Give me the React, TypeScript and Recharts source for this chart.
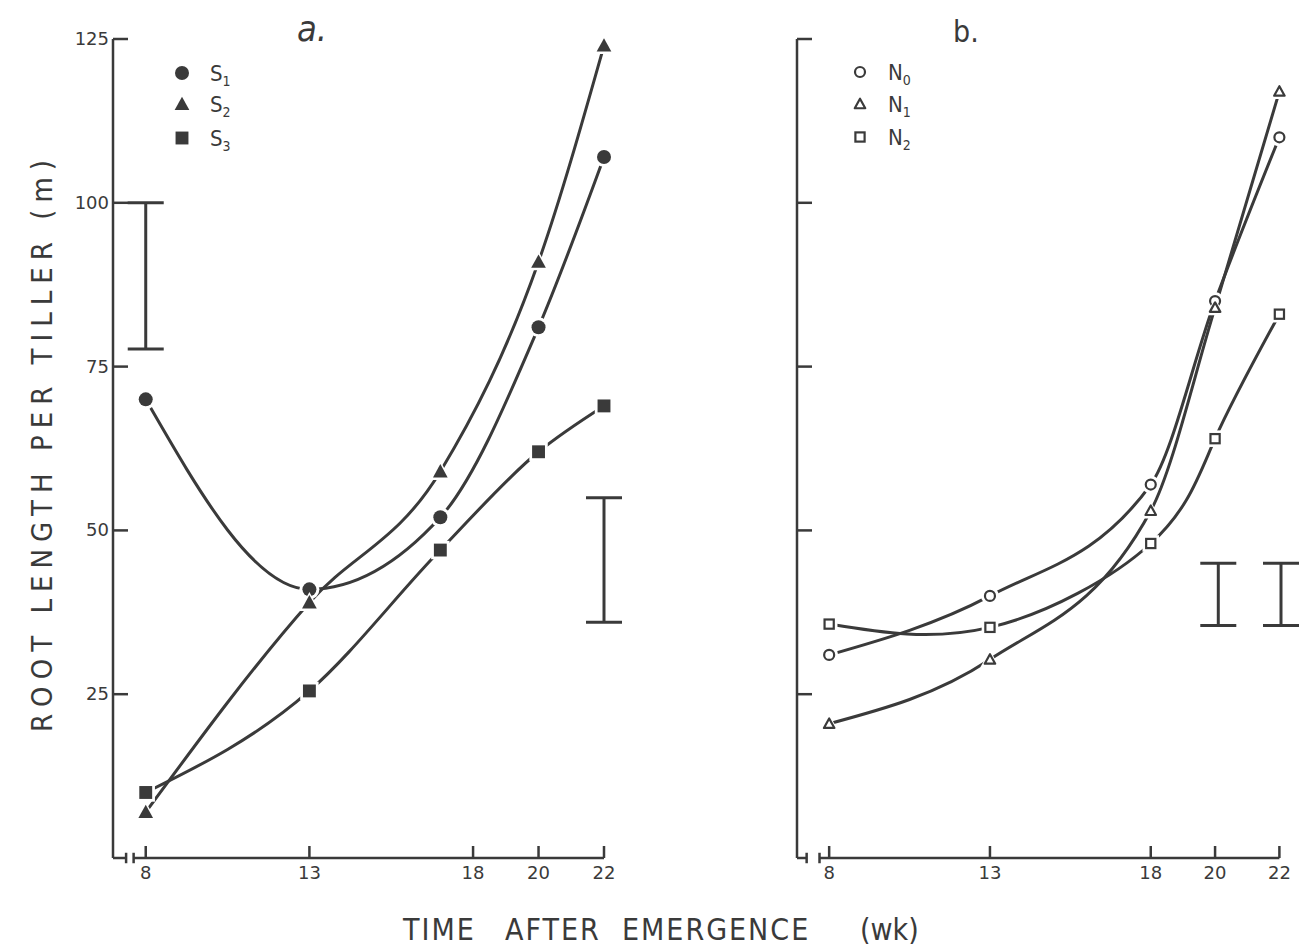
import React from "react";
import { ComposedChart, Line, Scatter, ErrorBar, XAxis, YAxis, ReferenceLine } from "recharts";

// panel a: soil treatments
const weeksA = [8, 13, 17, 20, 22];
const s1 = [70, 41, 52, 81, 107];
const s2 = [7, 39, 59, 91, 124];
const s3 = [10, 25.5, 47, 62, 69];

// panel b: nitrogen treatments
const weeksB = [8, 13, 18, 20, 22];
const n0 = [31, 40, 57, 85, 110];
const n1 = [20.5, 30.3, 53, 84, 117];
const n2 = [35.7, 35.2, 48, 64, 83];

const xTicks = [8, 13, 18, 20, 22];
const yTicks = [25, 50, 75, 100, 125];

// LSD bars: week, low, high
const barsA = [[8, 77.7, 100], [22, 36, 55]];
const barsB = [[20.1, 35.5, 45], [22.05, 35.5, 45]];

const INK = "#3a3a3a";
const FONT = "'DejaVu Sans Condensed', 'DejaVu Sans', sans-serif";
const TICK_FONT = "'DejaVu Sans', sans-serif";
const W = 1300;
const H = 952;
const AXIS_Y = 858;

const tableA = weeksA.map((wk, i) => ({ wk, s1: s1[i], s2: s2[i], s3: s3[i] }));
const tableB = weeksB.map((wk, i) => ({ wk, n0: n0[i], n1: n1[i], n2: n2[i] }));
const toBars = (bars: number[][]) =>
  bars.map(([wk, lo, hi]) => ({ wk, mid: (lo + hi) / 2, err: (hi - lo) / 2 }));

type Kind = "circle" | "triangle" | "square";

function Marker({ kind, cx, cy, filled }: { kind: Kind; cx: number; cy: number; filled: boolean }) {
  const r = filled ? 7 : 6;
  const shape = (s: number, fill: string, stroke: string, sw: number) => {
    if (kind === "circle") return <circle cx={cx} cy={cy} r={s} fill={fill} stroke={stroke} strokeWidth={sw} />;
    if (kind === "square") {
      const q = s * 0.92;
      return <rect x={cx - q} y={cy - q} width={2 * q} height={2 * q} fill={fill} stroke={stroke} strokeWidth={sw} />;
    }
    return (
      <polygon
        points={`${cx},${cy - s * 1.05} ${cx - s * 1.05},${cy + s * 0.85} ${cx + s * 1.05},${cy + s * 0.85}`}
        fill={fill}
        stroke={stroke}
        strokeWidth={sw}
        strokeLinejoin="round"
      />
    );
  };
  return (
    <g>
      {shape(r + 3, "#fff", "none", 0)}
      {filled ? shape(r, INK, "none", 0) : shape(r - 1, "#fff", INK, 2.2)}
    </g>
  );
}

const dotOf = (kind: Kind, filled: boolean) => (props: any) => (
  <Marker key={`${kind}-${props.index}`} kind={kind} cx={props.cx} cy={props.cy} filled={filled} />
);

const XTick = ({ x, y, payload }: any) => (
  <g>
    <line x1={x} x2={x} y1={y} y2={y - 12} stroke={INK} strokeWidth={2.5} />
    <text x={x} y={y + 21} textAnchor="middle" style={{ fontSize: 18 }} fill={INK} fontFamily={TICK_FONT}>
      {payload.value}
    </text>
  </g>
);

const makeYTick = (showLabel: boolean) => ({ x, y, payload }: any) => (
  <g>
    <line x1={x} x2={x + 15} y1={y} y2={y} stroke={INK} strokeWidth={2.5} />
    {showLabel && (
      <text x={x - 4} y={y + 6} textAnchor="end" style={{ fontSize: 18 }} fill={INK} fontFamily={TICK_FONT}>
        {payload.value}
      </text>
    )}
  </g>
);

function Panel({
  left,
  right,
  data,
  series,
  bars,
  showLabels,
  breaks,
}: {
  left: number;
  right: number;
  data: any[];
  series: { key: string; kind: Kind; curve: any }[];
  bars: number[][];
  showLabels: boolean;
  breaks: [number, number];
}) {
  const h = 0.8;
  return (
    <div style={{ position: "absolute", left: 0, top: 0 }}>
      <ComposedChart
        width={W}
        height={H}
        data={data}
        margin={{ top: 39, left: left - 40, right: W - right, bottom: H - AXIS_Y - 30 }}
      >
        <XAxis
          dataKey="wk"
          type="number"
          domain={[7, 22]}
          ticks={xTicks}
          axisLine={false}
          tickLine={false}
          tickSize={0}
          tickMargin={0}
          height={30}
          tick={<XTick />}
        />
        <YAxis
          type="number"
          domain={[0, 125]}
          ticks={yTicks}
          axisLine={{ stroke: INK, strokeWidth: 2.5 }}
          tickLine={false}
          tickSize={0}
          tickMargin={0}
          width={40}
          tick={makeYTick(showLabels)}
        />
        {/* broken x axis line */}
        <ReferenceLine segment={[{ x: 7, y: 0 }, { x: breaks[0], y: 0 }]} stroke={INK} strokeWidth={2.5} ifOverflow="visible" />
        <ReferenceLine segment={[{ x: breaks[0], y: -h }, { x: breaks[0], y: h }]} stroke={INK} strokeWidth={2.5} ifOverflow="visible" />
        <ReferenceLine segment={[{ x: breaks[1], y: -h }, { x: breaks[1], y: h }]} stroke={INK} strokeWidth={2.5} ifOverflow="visible" />
        <ReferenceLine segment={[{ x: breaks[1], y: 0 }, { x: 22, y: 0 }]} stroke={INK} strokeWidth={2.5} ifOverflow="visible" />
        {series.map((s) => (
          <Line
            key={s.key}
            dataKey={s.key}
            type={s.curve}
            stroke={INK}
            strokeWidth={3}
            dot={dotOf(s.kind, showLabels)}
            activeDot={false}
            isAnimationActive={false}
          />
        ))}
        <Scatter data={toBars(bars)} dataKey="mid" shape={() => <g />} isAnimationActive={false}>
          <ErrorBar dataKey="err" direction="y" width={18} stroke={INK} strokeWidth={3} isAnimationActive={false} />
        </Scatter>
      </ComposedChart>
    </div>
  );
}

function LegendRow({ x, y, kind, filled, base, sub }: any) {
  return (
    <g>
      <Marker kind={kind} cx={x} cy={y} filled={filled} />
      <text x={x + 28} y={y + 8} fontSize={22} fill={INK} fontFamily={FONT}>
        {base}
        <tspan fontSize={14} dy={5}>{sub}</tspan>
      </text>
    </g>
  );
}

const titleWords = [
  { x: 403, t: "TIME" },
  { x: 505, t: "AFTER" },
  { x: 622, t: "EMERGENCE" },
  { x: 860, t: "(wk)" },
];

export default function App() {
  return (
    <div style={{ position: "absolute", left: 0, top: 0, width: W, height: H, background: "#fff", overflow: "hidden" }}>
      <Panel
        left={113}
        right={604}
        data={tableA}
        series={[
          { key: "s1", kind: "circle", curve: "monotone" },
          { key: "s2", kind: "triangle", curve: "monotone" },
          { key: "s3", kind: "square", curve: "monotone" },
        ]}
        bars={barsA}
        showLabels={true}
        breaks={[7.4, 7.63]}
      />
      <Panel
        left={797}
        right={1281}
        data={tableB}
        series={[
          { key: "n0", kind: "circle", curve: "monotone" },
          { key: "n1", kind: "triangle", curve: "monotone" },
          { key: "n2", kind: "square", curve: "natural" },
        ]}
        bars={barsB}
        showLabels={false}
        breaks={[7.3, 7.7]}
      />
      <svg width={W} height={H} style={{ position: "absolute", left: 0, top: 0, pointerEvents: "none" }}>
        <text x={297} y={41} fontSize={36} fontStyle="italic" fill={INK} fontFamily={FONT}>
          a.
        </text>
        <text x={953} y={42} fontSize={30} fill={INK} fontFamily={FONT}>
          b.
        </text>
        <LegendRow x={182} y={73} kind="circle" filled base="S" sub="1" />
        <LegendRow x={182} y={104} kind="triangle" filled base="S" sub="2" />
        <LegendRow x={182} y={138} kind="square" filled base="S" sub="3" />
        <LegendRow x={860} y={72} kind="circle" filled={false} base="N" sub="0" />
        <LegendRow x={860} y={104} kind="triangle" filled={false} base="N" sub="1" />
        <LegendRow x={860} y={137} kind="square" filled={false} base="N" sub="2" />
        {titleWords.map((w) => (
          <text key={w.t} x={w.x} y={940} fontSize={30} letterSpacing={w.t === "(wk)" ? 0 : 2} fill={INK} fontFamily={FONT}>
            {w.t}
          </text>
        ))}
        <text
          transform="translate(52,732) rotate(-90)"
          fontSize={29}
          fill={INK}
          fontFamily={FONT}
          textLength={572}
          lengthAdjust="spacing"
        >
          ROOT LENGTH PER TILLER (m)
        </text>
      </svg>
    </div>
  );
}
